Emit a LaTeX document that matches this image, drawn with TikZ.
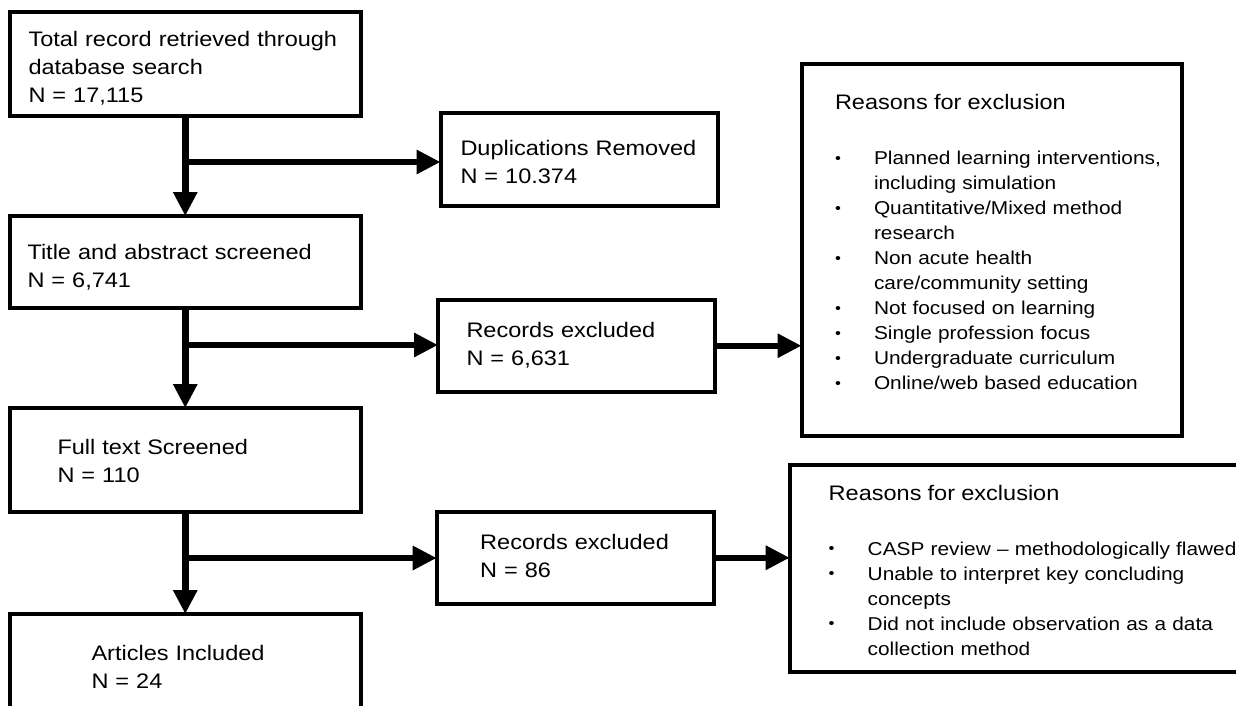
\documentclass[tikz,border=0pt]{standalone}
\usepackage{fontspec}
\setmainfont{Liberation Sans}[FakeStretch=1.12]
\usetikzlibrary{arrows.meta, positioning}

\newcommand{\dotmark}{\raisebox{1.5pt}{\fontsize{15}{15}\selectfont\textbullet}}
\newcommand{\whyitem}[1]{\hangindent=39pt\hangafter=1\noindent\makebox[39pt][l]{\dotmark}#1\par}

\begin{document}
\begin{tikzpicture}[x=1pt,y=1pt]
  \tikzstyle{box}=[draw,line width=4pt,inner sep=0pt,outer sep=0pt,align=left,
    font=\fontsize{21}{28}\selectfont]
  \tikzstyle{why}=[box,font=\fontsize{18.6}{25}\selectfont]
  \tikzstyle{lpad}=[execute at begin node={\leftskip=#1\relax}]
  \tikzstyle{flow}=[line width=6.5pt,-{Triangle[width=23pt,length=24pt]}]

  \useasboundingbox (0,0) rectangle (1236,-706);

  % main column
  \node[box,lpad=19pt,text width=351.5pt,text height=34.2pt,text depth=69.3pt,anchor=north west]
    (total) at (9.5,-12.5) {Total record retrieved through\\database search\\N = 17,115};
  \node[box,lpad=18pt,text width=351.5pt,text height=43pt,text depth=49pt]
    (screen) [below=100pt of total] {Title and abstract screened\\N = 6,741};
  \node[box,lpad=48pt,text width=351.5pt,text height=46pt,text depth=58pt]
    (fulltext) [below=100pt of screen] {Full text Screened\\N = 110};
  \node[box,lpad=82pt,text width=351.5pt,text height=46pt,text depth=60pt]
    (included) [below=102pt of fulltext] {Articles Included\\N = 24};

  % removed / excluded
  \node[box,lpad=20pt,text width=277.5pt,text height=42.2pt,text depth=51.3pt,anchor=north west]
    (dup) at (440.5,-112.8) {Duplications Removed\\N = 10.374};
  \node[box,lpad=28.5pt,text width=277pt,text height=37.5pt,text depth=55pt,anchor=north west]
    (excl_1) at (438,-299.5) {Records excluded\\N = 6,631};
  \node[box,lpad=43.5pt,text width=277.3pt,text height=37pt,text depth=54.5pt,anchor=north west]
    (excl_2) at (436.7,-512) {Records excluded\\N = 86};

  % reasons
  \node[why,lpad=33.5pt,text width=380.5pt,text height=46pt,text depth=326pt,anchor=north west]
    (why_1) at (801.5,-64) {{\fontsize{21}{28}\selectfont Reasons for exclusion\par}\vspace{30pt}
    \whyitem{Planned learning interventions,\newline including simulation}
    \whyitem{Quantitative/Mixed method\newline research}
    \whyitem{Non acute health\newline care/community setting}
    \whyitem{Not focused on learning}
    \whyitem{Single profession focus}
    \whyitem{Undergraduate curriculum}
    \whyitem{Online/web based education}};
  \node[why,lpad=39pt,text width=470pt,text height=34.7pt,text depth=171.7pt,anchor=north west]
    (why_2) at (789.7,-465.3) {{\fontsize{21}{28}\selectfont Reasons for exclusion\par}\vspace{30pt}
    \whyitem{CASP review – methodologically flawed}
    \whyitem{Unable to interpret key concluding\newline concepts}
    \whyitem{Did not include observation as a data\newline collection method}};

  \coordinate (split_1) at ([yshift=-46pt]total.south);
  \coordinate (split_2) at ([yshift=-37pt]screen.south);
  \coordinate (split_3) at ([yshift=-46pt]fulltext.south);

  \path[flow]
  (total)    edge (screen)
  (split_1)  edge (split_1 -| dup.west)
  (screen)   edge (fulltext)
  (split_2)  edge (split_2 -| excl_1.west)
  (excl_1)   edge (excl_1 -| why_1.west)
  (fulltext) edge (included)
  (split_3)  edge (split_3 -| excl_2.west)
  (excl_2)   edge (excl_2 -| why_2.west)
  ;
\end{tikzpicture}
\end{document}
